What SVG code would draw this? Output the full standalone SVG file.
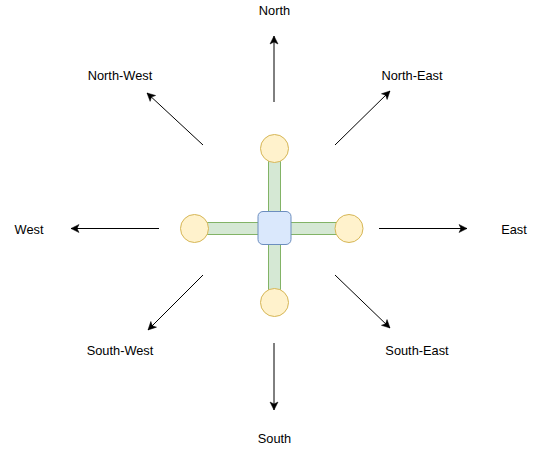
<svg xmlns="http://www.w3.org/2000/svg" width="536" height="451" viewBox="0 0 536 451">
<style>
.lbl{font-family:"Liberation Sans",Arial,sans-serif;font-size:12.8px;fill:#000;text-anchor:middle;dominant-baseline:central}
.arr{stroke:#000;stroke-width:1;fill:none;marker-end:url(#ah)}
.bar{fill:#d5e8d4;stroke:#82b366;stroke-width:1}
.dot{fill:#fff2cc;stroke:#d6b656;stroke-width:1}
.hub{fill:#dae8fc;stroke:#6c8ebf;stroke-width:1}
</style>
<defs>
<marker id="ah" viewBox="-9 -5 10 10" refX="0" refY="0" markerWidth="10" markerHeight="10" markerUnits="userSpaceOnUse" orient="auto">
<path d="M0,0 L-8,-4 L-6,0 L-8,4 Z" fill="#000" stroke="#000" stroke-width="0.5"/>
</marker>
</defs>
<rect width="536" height="451" fill="#fff"/>
<g id="connectors">
<line class="arr" x1="274" y1="102" x2="274" y2="36"/>
<line class="arr" x1="274" y1="343" x2="274" y2="410"/>
<line class="arr" x1="159" y1="228.5" x2="71" y2="228.5"/>
<line class="arr" x1="379" y1="228.5" x2="467" y2="228.5"/>
<line class="arr" x1="203" y1="145" x2="147" y2="93"/>
<line class="arr" x1="335" y1="145" x2="390" y2="91"/>
<line class="arr" x1="203" y1="275" x2="148" y2="330"/>
<line class="arr" x1="335" y1="275" x2="390" y2="328"/>
</g>
<g id="bar-v"><rect class="bar" x="268.5" y="148" width="12" height="155"/></g>
<g id="bar-h"><rect class="bar" x="194" y="222.5" width="155" height="12"/></g>
<g id="hub"><rect class="hub" x="258" y="211.5" width="33" height="33" rx="5"/></g>
<g id="dot-n"><circle class="dot" cx="274.5" cy="148.5" r="14"/></g>
<g id="dot-s"><circle class="dot" cx="274.5" cy="302.5" r="14"/></g>
<g id="dot-w"><circle class="dot" cx="194.5" cy="228.5" r="14"/></g>
<g id="dot-e"><circle class="dot" cx="349" cy="228.5" r="14"/></g>
<g id="label-n"><text class="lbl" x="274.5" y="10">North</text></g>
<g id="label-s"><text class="lbl" x="274.5" y="438">South</text></g>
<g id="label-w"><text class="lbl" x="29" y="229.5">West</text></g>
<g id="label-e"><text class="lbl" x="514" y="229.5">East</text></g>
<g id="label-nw"><text class="lbl" x="120" y="75">North-West</text></g>
<g id="label-ne"><text class="lbl" x="412" y="75">North-East</text></g>
<g id="label-sw"><text class="lbl" x="120" y="350.5">South-West</text></g>
<g id="label-se"><text class="lbl" x="417" y="350.5">South-East</text></g>
</svg>
